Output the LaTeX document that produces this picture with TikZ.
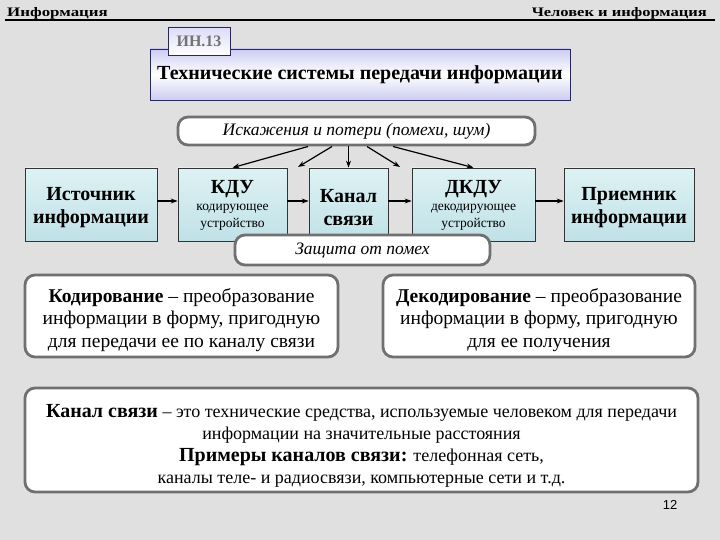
\documentclass[tikz,border=0pt]{standalone}
\usepackage{fontspec}
\usepackage{graphicx}
\setmainfont{Liberation Serif}
\newfontfamily\sansf{Liberation Sans}
\usetikzlibrary{arrows.meta}
\definecolor{bg}{RGB}{224,224,224}
\definecolor{frameg}{RGB}{112,112,112}
\definecolor{lav}{RGB}{204,204,242}
\definecolor{cyanA}{RGB}{222,242,244}
\definecolor{cyanB}{RGB}{192,225,231}
\definecolor{navy}{RGB}{40,40,90}
\newcommand{\fsz}[2]{\fontsize{#1}{#2}\selectfont}
\begin{document}
\begin{tikzpicture}[x=1pt,y=-1pt,
  bluebox/.style={draw=black!80, line width=0.7pt, top color=cyanA, bottom color=cyanB,
    minimum height=73pt, inner sep=0pt},
  txt/.style={inner sep=0pt, align=center},
  bigtwo/.style={txt, font=\fsz{20}{23}\bfseries},
  roundbox/.style={draw=frameg, line width=2.8pt, fill=white, rounded corners=10pt,
    inner sep=0pt, align=center},
  arr/.style={-{Stealth[length=7pt,width=5pt]}, line width=1.2pt, black}]
\fill[bg] (0,0) rectangle (720,540);
\useasboundingbox (0,0) rectangle (720,540);
% header
\draw[line width=1.4pt] (5,20) -- (715,20);
\node[anchor=base west, inner sep=0pt, font=\fsz{13}{15}\bfseries] (hl) at (7,17) {\scalebox{1.3}[1]{Информация}};
\node[anchor=base east, inner sep=0pt, font=\fsz{13}{15}\bfseries] (hr) at (707,17) {\scalebox{1.27}[1]{Человек и информация}};
% title
\node[draw=navy, line width=0.7pt, top color=lav, bottom color=lav, middle color=white,
  minimum width=420pt, minimum height=51pt, inner sep=0pt, font=\fsz{20}{24}\bfseries] (title) at (360,74.5)
  {Технические системы передачи информации};
\node[draw=navy, line width=0.7pt, top color=lav!70, bottom color=white,
  minimum width=62pt, minimum height=28pt, inner sep=0pt, font=\fsz{16}{18}\bfseries, text=black!55] (code) at (199,41)
  {ИН.13};
% noise
\node[roundbox, minimum width=357pt, minimum height=28pt, font=\fsz{17.5}{20}\itshape] (noise) at (356.5,131)
  {Искажения и потери (помехи, шум)};
% chain boxes
\node[bluebox, minimum width=132pt] (src) at (91,204.5) {};
\node[bluebox, minimum width=109pt] (kdu) at (232.5,204.5) {};
\node[bluebox, minimum width=79pt] (chan) at (348.5,204.5) {};
\node[bluebox, minimum width=123pt] (dkdu) at (473.5,204.5) {};
\node[bluebox, minimum width=130pt] (recv) at (629,204.5) {};
\node[bigtwo] (srcT) at ([yshift=-3pt]src.center) {Источник\\информации};
\node[txt, font=\fsz{13.5}{17}] (kduT) at ([yshift=-1pt]kdu.center)
  {{\fsz{20}{24}\bfseries КДУ}\\кодирующее\\устройство};
\node[bigtwo] (chanT) at ([yshift=-3pt]chan.center) {Канал\\связи};
\node[txt, font=\fsz{13.5}{17}] (dkduT) at ([yshift=-1pt]dkdu.center)
  {{\fsz{20}{24}\bfseries ДКДУ}\\декодирующее\\устройство};
\node[bigtwo] (recvT) at ([yshift=-3pt]recv.center) {Приемник\\информации};
\node[roundbox, minimum width=255pt, minimum height=30pt, font=\fsz{17.5}{20}\itshape] (prot) at (362.5,250)
  {Защита от помех};
% horizontal arrows
\draw[arr] ([yshift=3.5pt]src.east) -- ([yshift=3.5pt]kdu.west);
\draw[arr] ([yshift=3.5pt]kdu.east) -- ([yshift=3.5pt]chan.west);
\draw[arr] ([yshift=3.5pt]chan.east) -- ([yshift=3.5pt]dkdu.west);
\draw[arr] ([yshift=3.5pt]dkdu.east) -- ([yshift=3.5pt]recv.west);
% noise arrows
\coordinate (n1) at (308,146.5);
\coordinate (n2) at (332,146.5);
\coordinate (n3) at (348.5,146.5);
\coordinate (n4) at (367,146.5);
\coordinate (n5) at (393,146.5);
\coordinate (g1) at (298,167);
\coordinate (g2) at (400,167);
\draw[arr] (n1) -- (kdu.north);
\draw[arr] (n2) -- (g1);
\draw[arr] (n3) -- (chan.north);
\draw[arr] (n4) -- (g2);
\draw[arr] (n5) -- (dkdu.north);
% definitions
\node[roundbox, minimum width=313pt, minimum height=82pt] (enc) at (181.5,316) {};
\node[roundbox, minimum width=312pt, minimum height=82pt] (dec) at (539,316) {};
\node[txt, font=\fsz{19.5}{22.5}] (encT) at ([yshift=-4pt]enc.center)
  {\textbf{Кодирование} – преобразование\\информации в форму, пригодную\\для передачи ее по каналу связи};
\node[txt, font=\fsz{19.5}{22.5}] (decT) at ([yshift=-4pt]dec.center)
  {\textbf{Декодирование} – преобразование\\информации в форму, пригодную\\для ее получения};
\node[roundbox, minimum width=673pt, minimum height=104pt] (def) at (361.5,440) {};
\node[txt, font=\fsz{18}{22}] (defT) at ([yshift=-6pt]def.center)
  {{\fsz{20}{22}\bfseries Канал связи} – это технические средства, используемые человеком для передачи\\
   информации на значительные расстояния\\
   {\fsz{20}{22}\bfseries Примеры каналов связи:} телефонная сеть,\\
   каналы теле- и радиосвязи, компьютерные сети и т.д.};
\node[inner sep=0pt, font=\sansf\fsz{13}{15}] (page) at (670,505) {12};
\end{tikzpicture}
\end{document}
